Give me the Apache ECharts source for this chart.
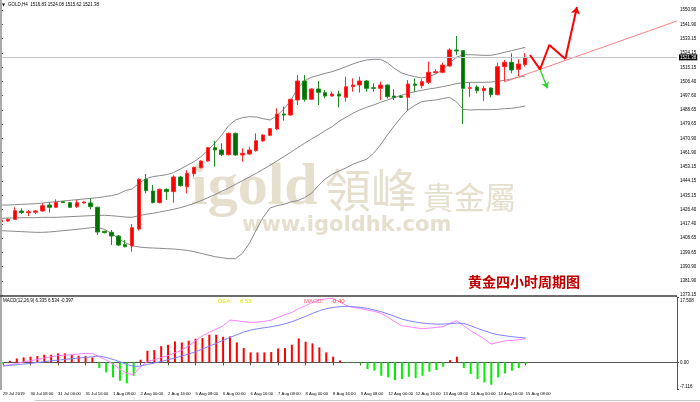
<!DOCTYPE html>
<html><head><meta charset="utf-8">
<script src="https://cdn.jsdelivr.net/npm/echarts@6/dist/echarts.min.js"></script>
<style>html,body{margin:0;padding:0;background:#fff}#c{width:700px;height:402px}</style>
</head><body><div id="c"></div>
<script>
// ---------- data ----------
const categories = Array.from({length: 99}, (_, i) => 'b' + i);
const xTickLabels = ['29 Jul 2019','30 Jul 08:00','31 Jul 00:00','31 Jul 16:00','1 Aug 08:00','2 Aug 00:00','2 Aug 16:00','5 Aug 08:00','6 Aug 00:00','6 Aug 16:00','7 Aug 08:00','8 Aug 00:00','8 Aug 16:00','9 Aug 08:00','12 Aug 00:00','12 Aug 16:00','13 Aug 08:00','14 Aug 00:00','14 Aug 16:00','15 Aug 08:00'];
const priceTicks = [1373.15,1381.90,1390.90,1399.65,1408.65,1417.40,1426.40,1435.15,1444.15,1453.15,1461.90,1470.90,1479.65,1488.65,1497.60,1506.40,1515.15,1524.15,1533.15,1541.90,1550.90];
const macdTicks = [-7.116, 0, 17.508];

const opens = [1418.88,1419.30,1420.34,1425.54,1424.50,1424.71,1425.54,1429.28,1427.83,1431.36,
1430.74,1428.24,1430.53,1430.53,1427.83,1412.86,1412.23,1409.94,1404.54,1403.71,
1414.31,1445.29,1438.01,1430.74,1439.05,1437.59,1446.74,1440.71,1448.82,1452.56,
1456.72,1465.04,1463.58,1460.67,1473.98,1460.46,1461.09,1463.17,1469.20,1472.73,
1476.68,1486.03,1485.41,1494.77,1506.62,1495.18,1501.63,1499.34,1497.26,1498.51,
1496.43,1503.08,1504.12,1506.62,1502.46,1502.04,1504.12,1497.26,1497.26,1496.43,
1504.75,1503.71,1505.78,1511.81,1512.02,1515.97,1525.95,1525.53,1502.04,1502.87,
1500.59,1502.25,1498.09,1515.56,1518.26,1513.89,1516.83];
const closes = [1419.93,1420.34,1425.75,1424.50,1425.12,1425.54,1428.87,1427.83,1430.94,1430.74,
1427.83,1430.74,1431.15,1428.24,1412.44,1412.03,1409.94,1404.33,1403.29,1415.14,
1445.29,1438.22,1430.74,1439.05,1437.59,1446.74,1441.34,1449.03,1452.77,1456.72,
1465.04,1463.58,1460.67,1473.98,1460.46,1461.50,1463.58,1469.40,1472.94,1476.89,
1486.03,1485.41,1495.18,1506.62,1495.18,1501.63,1499.55,1497.26,1498.51,1497.26,
1503.08,1504.12,1506.62,1502.04,1502.04,1504.12,1496.85,1496.43,1496.43,1504.75,
1503.91,1506.20,1512.02,1512.44,1516.59,1525.95,1525.33,1502.04,1502.46,1500.59,
1502.04,1498.09,1515.56,1518.26,1513.48,1517.22,1521.38];
const lows = [1415.77,1418.88,1419.93,1423.67,1422.42,1423.67,1425.12,1424.50,1427.41,1430.53,
1427.41,1427.41,1430.32,1426.58,1410.57,1411.61,1404.33,1403.71,1402.88,1400.18,
1413.27,1436.56,1430.32,1430.32,1432.40,1430.74,1440.71,1436.56,1446.95,1452.10,
1456.30,1453.19,1459.84,1460.20,1460.00,1456.31,1460.46,1462.54,1468.80,1472.30,
1476.06,1481.88,1485.00,1491.65,1493.73,1494.80,1491.65,1495.81,1496.85,1490.19,
1493.73,1499.96,1499.34,1499.96,1499.96,1494.77,1495.81,1494.77,1496.00,1488.11,
1499.96,1502.04,1504.75,1511.40,1511.40,1515.56,1522.83,1479.80,1496.85,1498.92,
1494.14,1496.43,1497.68,1506.20,1511.40,1509.73,1515.62];
const highs = [1420.97,1420.97,1427.83,1427.20,1426.16,1426.16,1430.32,1430.74,1432.81,1431.56,
1431.15,1432.40,1431.60,1433.44,1428.24,1413.27,1413.69,1410.57,1407.45,1417.43,
1445.90,1448.61,1441.75,1439.50,1439.68,1447.78,1447.37,1451.11,1453.19,1457.10,
1465.50,1469.40,1467.74,1474.40,1474.40,1464.62,1465.66,1473.98,1473.40,1477.30,
1489.57,1490.61,1495.60,1510.36,1510.36,1502.00,1506.62,1501.00,1499.96,1500.59,
1509.32,1508.28,1509.32,1507.24,1505.16,1506.20,1504.30,1501.42,1497.70,1507.24,
1508.28,1507.66,1518.67,1513.89,1518.05,1526.99,1534.68,1525.95,1505.58,1503.91,
1503.50,1502.40,1518.05,1519.71,1523.87,1520.13,1524.08];

const bandUpper = [1429.28,1429.28,1429.49,1429.70,1429.90,1430.11,1430.53,1430.94,1431.36,1431.78,
1432.19,1432.61,1433.02,1433.44,1433.85,1434.48,1435.10,1436.14,1438.22,1439.26,
1442.79,1445.70,1446.95,1447.58,1448.20,1449.45,1451.73,1454.02,1456.31,1459.43,
1463.58,1467.74,1472.94,1478.76,1482.29,1483.75,1484.37,1484.16,1483.12,1482.29,
1485.00,1489.15,1494.35,1502.04,1506.82,1508.90,1510.15,1511.40,1512.44,1513.89,
1515.56,1517.22,1518.67,1519.71,1520.13,1520.13,1518.05,1514.52,1511.81,1510.36,
1509.32,1508.49,1509.32,1510.98,1513.48,1517.63,1521.38,1523.04,1523.04,1522.83,
1522.62,1522.62,1523.46,1524.49,1525.53,1526.57,1527.61];
const bandMiddle = [1420.97,1421.17,1421.17,1421.38,1421.38,1421.38,1421.59,1421.59,1421.59,1421.80,
1422.00,1422.21,1422.42,1422.63,1422.84,1422.84,1422.63,1422.21,1421.80,1421.59,
1422.63,1423.46,1424.08,1424.92,1425.75,1426.58,1427.62,1428.87,1430.32,1431.98,
1433.85,1435.73,1437.80,1439.88,1442.17,1444.46,1446.74,1449.03,1451.53,1454.02,
1456.72,1459.43,1462.13,1465.04,1467.74,1470.44,1472.94,1475.64,1478.14,1481.46,
1483.96,1486.45,1488.53,1490.19,1491.65,1493.31,1494.77,1496.22,1497.68,1498.92,
1499.96,1500.80,1501.63,1502.25,1503.08,1503.91,1504.95,1505.58,1505.78,1505.78,
1505.78,1505.99,1506.41,1507.03,1507.86,1508.90,1509.73];
const bandLower = [1413.27,1413.07,1412.86,1412.65,1412.44,1412.23,1412.23,1412.44,1412.86,1413.27,
1413.69,1414.10,1414.52,1415.14,1415.35,1414.10,1411.61,1408.49,1405.79,1403.92,
1403.09,1402.67,1402.46,1402.26,1402.05,1401.84,1401.42,1401.01,1400.18,1399.14,
1398.10,1397.06,1396.43,1395.81,1395.81,1399.14,1405.37,1413.69,1421.59,1427.41,
1428.87,1429.70,1431.15,1431.98,1433.85,1436.56,1441.34,1445.50,1448.41,1450.49,
1452.36,1454.64,1456.31,1457.76,1461.50,1466.70,1472.94,1478.55,1483.96,1488.53,
1491.44,1493.73,1494.35,1494.77,1495.60,1496.43,1493.73,1488.95,1488.53,1488.74,
1488.74,1488.74,1488.95,1489.36,1489.57,1490.19,1491.02];

const macdDif = [-0.89,-0.62,-0.27,0.18,0.45,0.80,1.16,1.52,1.78,1.96,
2.05,2.23,2.41,2.32,1.52,0.62,-0.45,-1.78,-2.94,-3.30,
-1.16,0.27,0.71,1.34,1.78,2.59,3.30,4.46,5.80,7.14,
8.03,8.92,9.81,11.33,11.15,10.89,10.71,10.80,10.97,11.33,
12.04,12.76,13.38,14.45,15.17,16.06,16.68,17.04,17.13,16.15,
15.17,14.72,14.45,14.01,13.65,13.12,12.04,10.89,9.81,9.55,
9.28,9.01,9.19,9.37,9.55,10.44,11.15,9.81,8.48,7.41,
6.25,4.91,5.35,5.80,5.89,6.07,6.335];
const macdDea = [-0.98,-0.80,-0.62,-0.45,-0.27,0,0.18,0.45,0.62,0.80,
0.98,1.16,1.34,1.52,1.70,1.34,0.80,0.18,-0.54,-1.07,
-0.98,-0.54,-0.18,0.27,0.71,1.16,1.70,2.23,2.86,3.57,
4.37,5.09,5.89,6.69,7.41,8.12,8.65,9.01,9.28,9.55,
9.90,10.35,10.89,11.60,12.31,13.12,13.83,14.36,14.72,14.90,
14.99,14.90,14.72,14.45,14.01,13.56,12.94,12.31,11.60,11.15,
10.80,10.53,10.35,10.26,10.26,10.35,10.53,10.44,9.81,9.10,
8.48,7.85,7.41,7.14,6.87,6.69,6.534];
const macdHist = [-0.27,0.45,1.07,1.34,1.52,1.70,2.05,2.05,2.41,2.41,
2.05,1.78,1.70,1.34,-1.52,-2.68,-4.01,-4.91,-5.62,-3.57,
0.71,3.12,3.30,4.37,4.73,5.62,5.35,5.80,6.33,6.51,
7.41,7.41,6.87,6.96,5.35,3.84,2.68,2.68,2.68,2.77,
3.75,3.84,4.73,6.42,5.53,5.09,4.01,2.68,1.52,0.54,
-0.18,-0.18,-0.36,-1.78,-2.23,-3.57,-4.01,-4.73,-4.46,-3.84,
-4.19,-3.57,-2.50,-2.05,-1.16,0.62,1.52,-1.52,-3.12,-4.46,
-5.35,-5.98,-4.01,-2.94,-2.23,-1.52,-0.397];

// projection drawings (x = bar position, y = price)
const trendX = [73, 98], trendY = [1506.06, 1544.04];
const zigX = [76.69, 78.14, 79.49, 81.81], zigY = [1522.83, 1513.91, 1529.07, 1520.34];
const arrowUpX = [81.81, 83.50], arrowUpY = [1520.34, 1552.77];
const arrowDownX = [78.14, 79.20], arrowDownY = [1513.91, 1502.06];
const lastPrice = 1521.38;

// ---------- chart ----------
const FONT = '"Liberation Sans", Arial, sans-serif';
const candleData = opens.map((o, i) => [o, closes[i], lows[i], highs[i]]);
const pairs = (xs, ys) => xs.map((x, i) => [x, ys[i]]);
const showTick = (i) => i % 4 === 0 && i / 4 < xTickLabels.length;
const WM = '#e6dfce';

const chart = echarts.init(document.getElementById('c'), null, {renderer: 'canvas'});
chart.setOption({
  animation: false,
  backgroundColor: '#ffffff',
  grid: [
    {left: 1, top: 2, width: 676, height: 293},
    {left: 1, top: 297, width: 676, height: 92}
  ],
  xAxis: [
    {type: 'category', gridIndex: 0, data: categories, boundaryGap: false, show: false},
    {type: 'category', gridIndex: 1, data: categories, boundaryGap: false,
      axisLine: {show: true, lineStyle: {color: '#555', width: 1}},
      axisTick: {show: true, interval: showTick, length: 3, lineStyle: {color: '#555'}},
      axisLabel: {show: true, interval: showTick, align: 'left', margin: 3, fontSize: 4.2, color: '#000', fontFamily: FONT,
        formatter: (v) => xTickLabels[parseInt(v.slice(1), 10) / 4] || ''},
      splitLine: {show: false}},
    {type: 'value', gridIndex: 0, min: 0, max: 98, show: false}
  ],
  yAxis: [
    {type: 'value', gridIndex: 0, position: 'right', min: 1373.15, max: 1555.89,
      axisLine: {show: true, lineStyle: {color: '#555', width: 1}},
      axisTick: {show: true, length: 2, customValues: priceTicks, lineStyle: {color: '#555'}},
      axisLabel: {show: true, customValues: priceTicks, margin: 3, fontSize: 4.5, color: '#000', fontFamily: FONT,
        formatter: (v) => Number(v).toFixed(2)},
      splitLine: {show: false}},
    {type: 'value', gridIndex: 1, position: 'right', min: -7.116, max: 17.508,
      axisLine: {show: true, lineStyle: {color: '#555', width: 1}},
      axisTick: {show: true, length: 2, customValues: macdTicks, lineStyle: {color: '#555'}},
      axisLabel: {show: true, customValues: macdTicks, margin: 3, fontSize: 4.5, color: '#000', fontFamily: FONT,
        formatter: (v) => v > 1 ? '{t|' + Number(v).toFixed(3) + '}' : (v < -1 ? '{b|' + Number(v).toFixed(3) + '}' : '0.00'),
        rich: {t: {fontSize: 4.5, padding: [7, 0, 0, 0]}, b: {fontSize: 4.5, padding: [0, 0, 5, 0]}}},
      splitLine: {show: false}}
  ],
  series: [
    {name: 'upper', type: 'line', xAxisIndex: 0, yAxisIndex: 0, data: bandUpper, symbol: 'none',
      lineStyle: {color: '#8a8a8a', width: 1}, z: 1},
    {name: 'middle', type: 'line', xAxisIndex: 0, yAxisIndex: 0, data: bandMiddle, symbol: 'none',
      lineStyle: {color: '#8a8a8a', width: 1}, z: 1},
    {name: 'lower', type: 'line', xAxisIndex: 0, yAxisIndex: 0, data: bandLower, symbol: 'none',
      lineStyle: {color: '#8a8a8a', width: 1}, z: 1},
    {name: 'GOLD', type: 'candlestick', xAxisIndex: 0, yAxisIndex: 0, data: candleData, barWidth: 4,
      itemStyle: {color: '#ff0000', color0: '#007000', borderColor: '#ff2a2a', borderColor0: '#1f8a1f', borderWidth: 1},
      markLine: {silent: true, symbol: 'none', animation: false,
        lineStyle: {color: '#c4c4cc', width: 1, type: 'solid'},
        label: {show: true, position: 'end', distance: 2, formatter: () => lastPrice.toFixed(2),
          color: '#fff', backgroundColor: '#000', fontSize: 4.5, padding: [1, 1, 0, 1], fontFamily: FONT},
        data: [{yAxis: lastPrice}]}, z: 3},
    {name: 'trend', type: 'line', xAxisIndex: 2, yAxisIndex: 0, data: pairs(trendX, trendY), symbol: 'none',
      lineStyle: {color: '#ff7f7f', width: 1}, z: 4},
    {name: 'zigzag', type: 'line', xAxisIndex: 2, yAxisIndex: 0, data: pairs(zigX, zigY), symbol: 'none',
      lineStyle: {color: '#ff0000', width: 2}, z: 5},
    {name: 'arrowUp', type: 'lines', coordinateSystem: 'cartesian2d', xAxisIndex: 2, yAxisIndex: 0,
      symbol: ['none', 'arrow'], symbolSize: 7,
      lineStyle: {color: '#ff0000', width: 2, opacity: 1, curveness: 0},
      data: [{coords: pairs(arrowUpX, arrowUpY)}], z: 5},
    {name: 'arrowDown', type: 'lines', coordinateSystem: 'cartesian2d', xAxisIndex: 2, yAxisIndex: 0,
      symbol: ['none', 'arrow'], symbolSize: 6,
      lineStyle: {color: '#22dd22', width: 1.3, opacity: 1, curveness: 0},
      data: [{coords: pairs(arrowDownX, arrowDownY)}], z: 5},
    {name: 'MACD', type: 'bar', xAxisIndex: 1, yAxisIndex: 1, data: macdHist, barWidth: 2,
      itemStyle: {color: (p) => p.value >= 0 ? '#ff0000' : '#00ee00'}, z: 2},
    {name: 'DIF', type: 'line', xAxisIndex: 1, yAxisIndex: 1, data: macdDif, symbol: 'none',
      lineStyle: {color: '#ff80ff', width: 1}, z: 3},
    {name: 'DEA', type: 'line', xAxisIndex: 1, yAxisIndex: 1, data: macdDea, symbol: 'none',
      lineStyle: {color: '#8080ff', width: 1}, z: 3}
  ],
  graphic: [
    {type: 'rect', z: 10, shape: {x: 0, y: 0, width: 2, height: 390}, style: {fill: '#a9a9a9'}},
    {type: 'line', z: 10, shape: {x1: 0, y1: 296, x2: 677, y2: 296}, style: {stroke: '#3c3c3c', lineWidth: 1.5}},
    {type: 'line', z: 10, shape: {x1: 35, y1: 400.5, x2: 700, y2: 400.5}, style: {stroke: '#c8c8c8', lineWidth: 1}},
    {type: 'text', z: 0, style: {text: 'igold', x: 191, y: 188, font: 'bold 60px "Liberation Serif", serif', fill: WM, verticalAlign: 'middle'}},
    {type: 'text', z: 0, style: {text: '領峰', x: 325, y: 190, font: '46px "Noto Sans CJK TC", sans-serif', fill: WM, verticalAlign: 'middle'}},
    {type: 'text', z: 0, style: {text: '貴金屬', x: 423, y: 197, font: '31px "Noto Sans CJK TC", sans-serif', fill: WM, verticalAlign: 'middle'}},
    {type: 'text', z: 0, style: {text: 'www.igoldhk.com', x: 242, y: 226, font: 'bold 21px "DejaVu Sans", sans-serif', fill: WM, verticalAlign: 'middle'}},
    {type: 'text', z: 10, style: {text: '黄金四小时周期图', x: 468, y: 282, font: 'bold 14px "Noto Sans CJK SC", sans-serif', fill: '#c00000', verticalAlign: 'middle'}},
    {type: 'text', z: 10, style: {text: '▼', x: 2, y: 5, font: '4px "DejaVu Sans", sans-serif', fill: '#000', verticalAlign: 'middle'}},
    {type: 'text', z: 10, style: {text: 'GOLD,H4  1516.83 1524.08 1515.62 1521.38', x: 8, y: 5, font: '4.5px ' + FONT, fill: '#000', verticalAlign: 'middle'}},
    {type: 'text', z: 10, style: {text: 'MACD(12,26,9) 6.335 6.534 -0.397', x: 3, y: 301, font: '4.5px ' + FONT, fill: '#000', verticalAlign: 'middle'}},
    {type: 'text', z: 10, style: {text: 'DEA:', x: 218, y: 301, font: '6px ' + FONT, fill: '#e2e200', verticalAlign: 'middle'}},
    {type: 'text', z: 10, style: {text: '6.53', x: 240, y: 301, font: '6px ' + FONT, fill: '#e2e200', verticalAlign: 'middle'}},
    {type: 'text', z: 10, style: {text: 'MACD:', x: 304, y: 301, font: '6px ' + FONT, fill: '#ff5a7a', verticalAlign: 'middle'}},
    {type: 'text', z: 10, style: {text: '-0.40', x: 331, y: 301, font: '6px ' + FONT, fill: '#ff4040', verticalAlign: 'middle'}}
  ]
});
</script>
</body></html>
